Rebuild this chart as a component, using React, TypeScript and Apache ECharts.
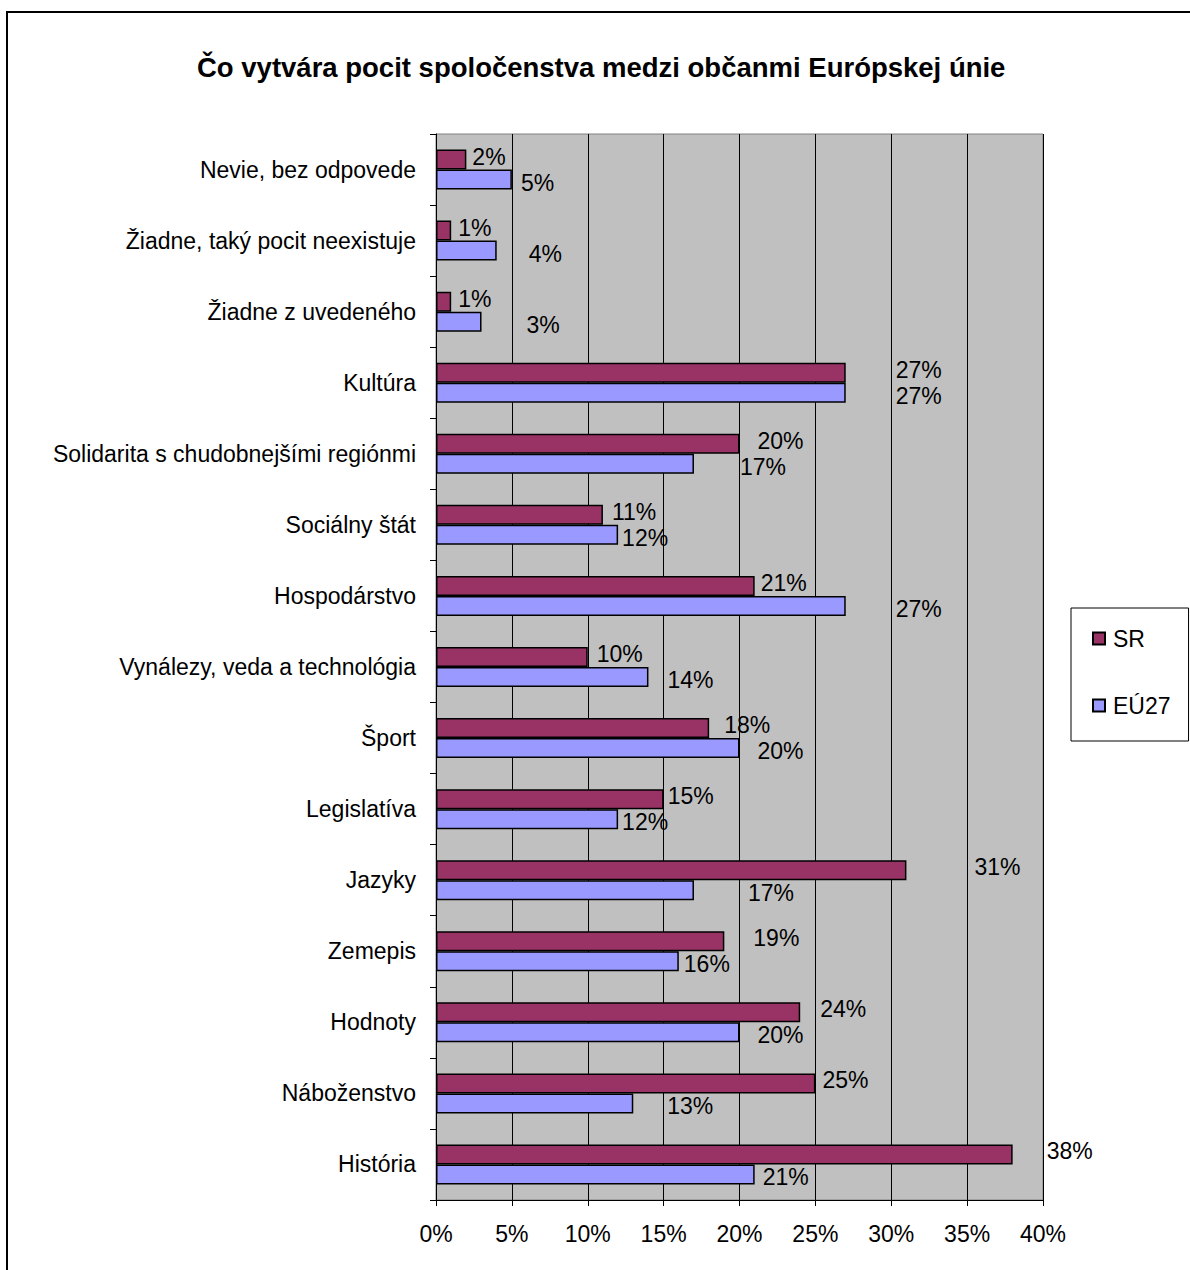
import React, { useEffect, useRef } from "react";
import * as echarts from "echarts";

const titleText = "Čo vytvára pocit spoločenstva medzi občanmi Európskej únie";
const categories = [
  "Nevie, bez odpovede",
  "Žiadne, taký pocit neexistuje",
  "Žiadne z uvedeného",
  "Kultúra",
  "Solidarita s chudobnejšími regiónmi",
  "Sociálny štát",
  "Hospodárstvo",
  "Vynálezy, veda a technológia",
  "Šport",
  "Legislatíva",
  "Jazyky",
  "Zemepis",
  "Hodnoty",
  "Náboženstvo",
  "História",
];
const srValues = [2, 1, 1, 27, 20, 11, 21, 10, 18, 15, 31, 19, 24, 25, 38];
const euValues = [5, 4, 3, 27, 17, 12, 27, 14, 20, 12, 17, 16, 20, 13, 21];
const seriesNames = ["SR", "EÚ27"];
const xTicks = { min: 0, max: 40, interval: 5 };

// label distances (px) mimicking the manually placed labels of the original
const srLabelGap = [6, 7, 7, 50, 18, 9, 6, 9, 15, 4, 68, 29, 20, 7, 34];
const euLabelGap = [9, 32, 45, 50, 46, 4, 50, 19, 18, 4, 54, 5, 18, 34, 8];

const FONT = "'Liberation Sans', Arial, sans-serif";
const FS = 23;

export default function App() {
  const ref = useRef<HTMLDivElement>(null);
  useEffect(() => {
    if (!ref.current) return;
    const chart = echarts.init(ref.current, undefined, { renderer: "svg" });
    const mk = (vals: number[], gaps: number[]) =>
      vals.map((v, i) => ({ value: v, label: { distance: gaps[i] } }));
    const labelStyle = (dy: number) => ({
      show: true,
      position: "right" as const,
      formatter: "{c}%",
      fontSize: FS,
      fontFamily: FONT,
      color: "#000",
      offset: [0, dy],
    });
    chart.setOption({
      animation: false,
      textStyle: { fontFamily: FONT },
      title: {
        text: titleText,
        left: 192,
        top: 48,
        textStyle: { fontSize: 27.5, fontWeight: "bold", color: "#000", fontFamily: FONT },
      },
      graphic: [
        {
          type: "rect",
          shape: { x: 7, y: 12, width: 1300, height: 1400 },
          style: { fill: "none", stroke: "#000", lineWidth: 2 },
          silent: true,
          z: -1,
        },
      ],
      legend: {
        orient: "vertical",
        left: 1071,
        top: 608,
        data: seriesNames,
        icon: "rect",
        itemWidth: 12,
        itemHeight: 12,
        itemGap: 44,
        padding: [19, 18, 24, 21],
        borderColor: "#000",
        borderWidth: 1,
        textStyle: { fontSize: FS, color: "#000", fontFamily: FONT, padding: [0, 0, 0, 3] },
      },
      grid: {
        left: 436,
        top: 134,
        width: 607,
        height: 1066,
        show: true,
        backgroundColor: "#C0C0C0",
        borderColor: "#808080",
        borderWidth: 1,
      },
      xAxis: {
        type: "value",
        min: xTicks.min,
        max: xTicks.max,
        interval: xTicks.interval,
        axisLine: { show: true, lineStyle: { color: "#000", width: 1 } },
        axisTick: { show: true, length: 6, lineStyle: { color: "#000" } },
        splitLine: { show: true, lineStyle: { color: "#000", width: 1 } },
        axisLabel: {
          formatter: "{value}%",
          fontSize: FS,
          color: "#000",
          margin: 22,
          fontFamily: FONT,
        },
      },
      yAxis: {
        type: "category",
        inverse: true,
        data: categories,
        axisLine: { show: true, lineStyle: { color: "#000", width: 1 } },
        axisTick: { show: true, length: 6, lineStyle: { color: "#000" } },
        axisLabel: { fontSize: FS, color: "#000", margin: 20, fontFamily: FONT },
      },
      series: [
        {
          name: seriesNames[0],
          type: "bar",
          data: mk(srValues, srLabelGap),
          barWidth: 20,
          barGap: "0%",
          itemStyle: { color: "#993366", borderColor: "#000", borderWidth: 1.5 },
          label: labelStyle(-3),
        },
        {
          name: seriesNames[1],
          type: "bar",
          data: mk(euValues, euLabelGap),
          barWidth: 20,
          barGap: "0%",
          itemStyle: { color: "#9999FF", borderColor: "#000", borderWidth: 1.5 },
          label: labelStyle(3),
        },
      ],
    });
    return () => chart.dispose();
  }, []);
  return (
    <div
      ref={ref}
      style={{ position: "absolute", left: 0, top: 0, width: 1190, height: 1270 }}
    />
  );
}
